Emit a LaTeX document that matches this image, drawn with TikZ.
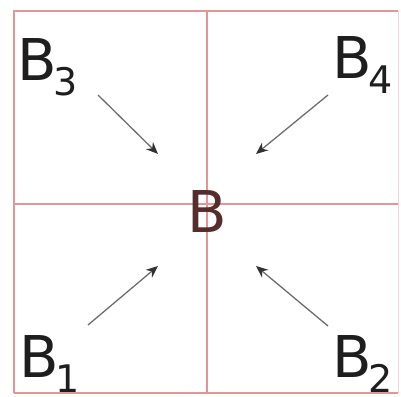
\documentclass[tikz,border=0pt]{standalone}
\usepackage{fontspec}
\setmainfont{DejaVu Sans}
\usetikzlibrary{arrows.meta}
\definecolor{gridred}{RGB}{228,150,150}
\definecolor{arrgray}{RGB}{110,110,110}
\definecolor{tipgray}{RGB}{50,50,50}
\definecolor{txt}{RGB}{30,30,30}
\definecolor{ctxt}{RGB}{85,45,45}
\newcommand{\bigfont}{\fontsize{57.6}{60}\selectfont}
\newcommand{\subfont}{\fontsize{38}{40}\selectfont}
\newcommand{\lbl}[1]{\bigfont B\kern-4pt\raisebox{-15pt}{\subfont #1}}
\tikzset{
  gridline/.style={draw=gridred, line width=1.4pt},
  lab/.style={anchor=base west, inner sep=0pt, outer sep=0pt, text=txt},
  arr/.style={draw=arrgray, line width=1.3pt, -{Stealth[length=12pt,width=10pt,color=tipgray]}}
}
\begin{document}
\begin{tikzpicture}[x=1pt,y=-1pt]
\useasboundingbox (0,0) rectangle (401,396);
\fill[white] (0,0) rectangle (401,396);
% grid
\draw[gridline] (14,393) -- (14,11) -- (398,11);
\draw[draw=gridred, line width=2.4pt] (14,11) -- (398,11);
\draw[gridline] (14,393) -- (398,393);
\draw[draw=gridred, line width=0.6pt, opacity=0.4] (398,11) -- (398,393);
\draw[gridline] (207,11) -- (207,393);
\draw[gridline] (14,204) -- (398,204);
% labels
\node[lab] (B3) at (17.5,80) {\lbl{3}};
\node[lab] (B4) at (332.5,78) {\lbl{4}};
\node[lab] (B1) at (19.5,377) {\lbl{1}};
\node[lab] (B2) at (332.5,377) {\lbl{2}};
\node[lab, text=ctxt] (B) at (187.5,232) {\bigfont B};
% arrows
\coordinate (s3) at (98,95);  \coordinate (e3) at (158,154);
\coordinate (s4) at (328,95); \coordinate (e4) at (256,154);
\coordinate (s1) at (88,325); \coordinate (e1) at (158,266);
\coordinate (s2) at (328,326); \coordinate (e2) at (256,266);
\draw[arr] (s3) -- (e3);
\draw[arr] (s4) -- (e4);
\draw[arr] (s1) -- (e1);
\draw[arr] (s2) -- (e2);
\end{tikzpicture}
\end{document}
